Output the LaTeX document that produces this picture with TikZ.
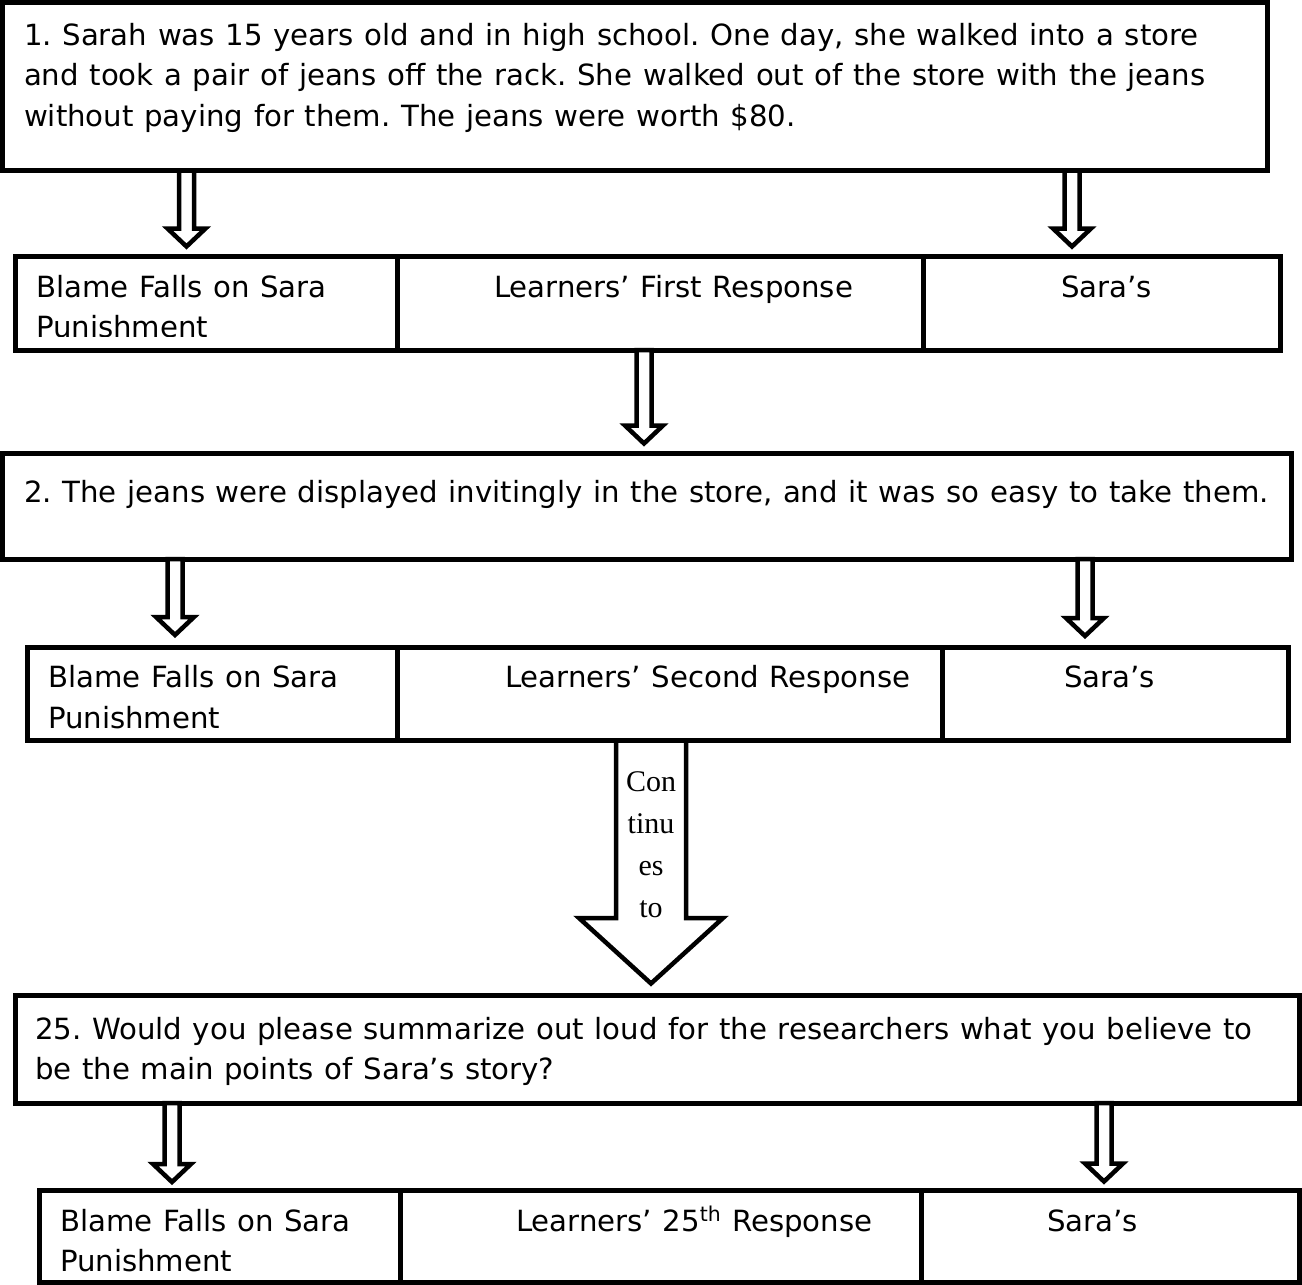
\documentclass[tikz,border=0pt]{standalone}
\usepackage{fontspec}
\setmainfont{DejaVu Sans}[WordSpace=1.15]
\newfontfamily\arrowfont{Liberation Serif}
\usetikzlibrary{calc}
\frenchspacing

% hollow block arrow from the bottom of one node to the top of another
% #1 upper node, #2 lower node, #3 x, #4 tip gap, #5 shaft half width,
% #6 head half width, #7 head height
\newcommand\hollowarrow[7]{%
  \draw[hollow] let \p1=(#1.south), \p2=(#2.north) in
    ({#3-#5},\y1) -- ({#3-#5},{\y2+#4+#7}) -- ({#3-#6},{\y2+#4+#7})
    -- (#3,{\y2+#4}) -- ({#3+#6},{\y2+#4+#7}) -- ({#3+#5},{\y2+#4+#7})
    -- ({#3+#5},\y1) -- cycle;}

\begin{document}
\begin{tikzpicture}[x=1pt,y=-1pt,
  frame/.style={rectangle, draw=black, line width=5pt, fill=white,
    inner sep=0pt, outer sep=0pt, anchor=north west},
  label/.style={anchor=base west, inner sep=0pt, outer sep=0pt,
    font=\fontsize{29.2}{40.5}\selectfont},
  hollow/.style={draw=black, line width=4.5pt, fill=white,
    line join=miter, miter limit=10},
  contlabel/.style={anchor=base, inner sep=0pt, outer sep=0pt,
    font=\arrowfont\fontsize{30}{42}\selectfont}]

\useasboundingbox (0,0) rectangle (1302,1285);

% ---- question boxes and response rows ----
\node[frame, minimum width=1264.5pt, minimum height=168pt] (box1) at (2.5,2.5) {};
\node[frame, minimum width=382pt, minimum height=93.5pt] (r1a) at (15,256.5) {};
\node[frame, minimum width=526pt, minimum height=93.5pt] (r1b) at (397,256.5) {};
\node[frame, minimum width=357pt, minimum height=93.5pt] (r1c) at (923,256.5) {};

\node[frame, minimum width=1288.5pt, minimum height=106pt] (box2) at (2.5,453) {};
\node[frame, minimum width=369.5pt, minimum height=93.5pt] (r2a) at (27.5,647) {};
\node[frame, minimum width=545pt, minimum height=93.5pt] (r2b) at (397,647) {};
\node[frame, minimum width=346pt, minimum height=93.5pt] (r2c) at (942,647) {};

\node[frame, minimum width=1284.5pt, minimum height=107.5pt] (box25) at (15,995.5) {};
\node[frame, minimum width=360.5pt, minimum height=92pt] (r3a) at (39.5,1190) {};
\node[frame, minimum width=521pt, minimum height=92pt] (r3b) at (400,1190) {};
\node[frame, minimum width=378.5pt, minimum height=92pt] (r3c) at (921,1190) {};

% ---- connecting arrows ----
\hollowarrow{box1}{r1a}{186.5}{10}{7.5}{19}{18}
\hollowarrow{box1}{r1c}{1072}{10}{7.5}{19}{18}
\hollowarrow{r1b}{box2}{644}{9.5}{7.5}{19}{18}
\hollowarrow{box2}{r2a}{175}{12}{7.5}{19}{18}
\hollowarrow{box2}{r2c}{1085}{11}{7.5}{19}{18}
\hollowarrow{box25}{r3a}{172}{8}{7.5}{19}{18}
\hollowarrow{box25}{r3c}{1104}{8.5}{7.5}{19}{18}
\hollowarrow{r2b}{box25}{651}{12}{35}{72}{65.5}

\node[contlabel] (cont) at (651,791)
  {\parbox[t]{80pt}{\centering Con\\tinu\\es\\to}};

% ---- texts ----
\node[label] (q1) at (24,45) {\parbox[t]{1260pt}{\raggedright
  1. Sarah was 15 years old and in high school. One day, she walked into a store\\
  and took a pair of jeans off the rack. She walked out of the store with the jeans\\
  without paying for them. The jeans were worth \$80.}};

\begin{scope}
  \clip (0,0) rectangle (1302,336.5);
  \node[label] (b1) at (36,297) {\parbox[t]{350pt}{\raggedright
    Blame Falls on Sara\\Punishment}};
\end{scope}
\node[label] (l1) at (494,297) {Learners’ First Response};
\node[label] (s1) at (1061,297) {Sara’s};

\node[label] (q2) at (24,502)
  {2. The jeans were displayed invitingly in the store, and it was so easy to take them.};

\node[label] (b2) at (48,687.5) {\parbox[t]{350pt}{\raggedright
  Blame Falls on Sara\\Punishment}};
\node[label] (l2) at (505,687.5) {Learners’ Second Response};
\node[label] (s2) at (1064,687.5) {Sara’s};

\node[label] (q25) at (35,1039) {\parbox[t]{1270pt}{\raggedright
  25. Would you please summarize out loud for the researchers what you believe to\\
  be the main points of Sara’s story?}};

\node[label] (b3) at (60,1231) {\parbox[t]{340pt}{\raggedright
  Blame Falls on Sara\\Punishment}};
\node[label] (l3) at (516,1231) {Learners’ 25\textsuperscript{th} Response};
\node[label] (s3) at (1047,1231) {Sara’s};

\end{tikzpicture}
\end{document}
